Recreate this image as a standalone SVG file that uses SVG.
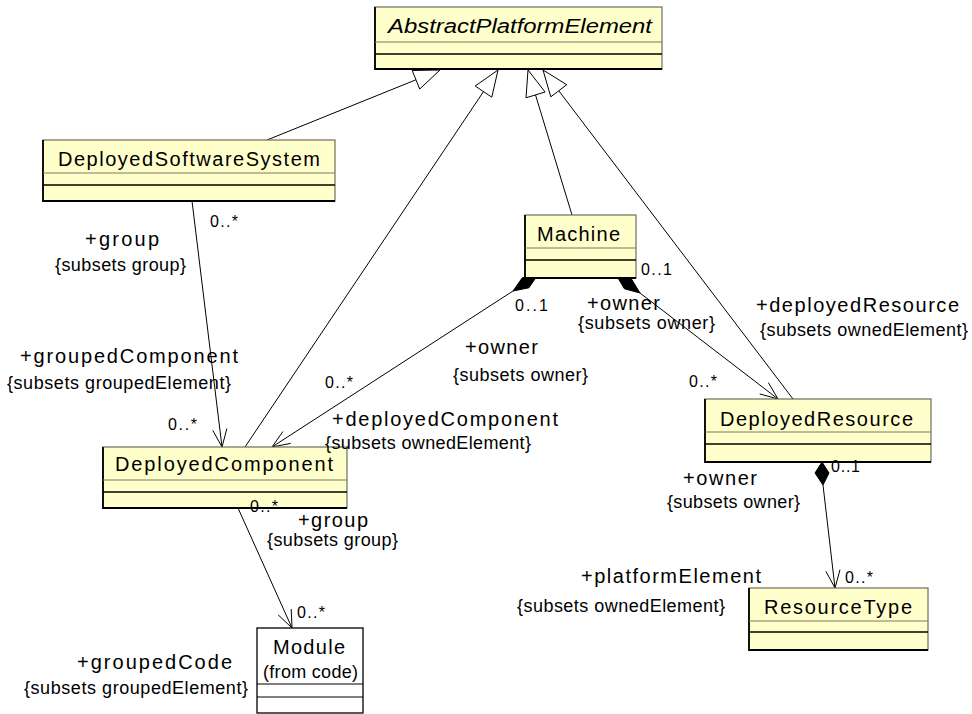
<svg xmlns="http://www.w3.org/2000/svg" width="972" height="714" viewBox="0 0 972 714">
<defs>
<style>
.cls{fill:#FFFFCC;stroke:#6e6e5a;stroke-width:1.2}
.sep1{stroke:#7a7a62;stroke-width:1.2}
.sep2{stroke:#000;stroke-width:1.3}
.edge{stroke:#000;stroke-width:1.8;fill:none}
.ln{stroke:#000;stroke-width:1;fill:none}
.gen{fill:#fff;stroke:#000;stroke-width:1}
.dia{fill:#000;stroke:#000;stroke-width:1}
text{font-family:"Liberation Sans",Arial,sans-serif;fill:#000}
.cn{font-size:20px}
.rn{font-size:20px}
.cs{font-size:18px}
.mu{font-size:16px}
</style>
</defs>
<rect width="972" height="714" fill="#fff"/>
<g id="connectors">
<!-- generalizations -->
<line class="ln" x1="267" y1="140" x2="415.9" y2="79.8"/>
<polygon class="gen" points="440,70 412.2,70.5 419.7,89"/>
<line class="ln" x1="245" y1="447" x2="483.5" y2="91.6"/>
<polygon class="gen" points="498,70 475.2,86 491.8,97.2"/>
<line class="ln" x1="572" y1="215" x2="535.5" y2="94.9"/>
<polygon class="gen" points="528,70 526,97.8 545.1,92"/>
<line class="ln" x1="793" y1="399" x2="558.7" y2="90.7"/>
<polygon class="gen" points="543,70 550.8,96.8 566.7,84.7"/>
<!-- associations -->
<line class="ln" x1="192" y1="201" x2="222" y2="447"/>
<polyline class="ln" points="212.8,430.4 222,447 226.9,428.6"/>
<polygon class="dia" points="538,274.6 528.9,287.8 513,291 522.3,277.8"/>
<line class="ln" x1="513" y1="291" x2="272" y2="447"/>
<polyline class="ln" points="290.7,443.4 272,447 282.9,431.5"/>
<polygon class="dia" points="616.1,274.8 631.6,279.2 640,293 624.4,288.8"/>
<line class="ln" x1="640" y1="293" x2="778" y2="399"/>
<polyline class="ln" points="768.4,382.6 778,399 759.7,393.9"/>
<polygon class="dia" points="822,462 829,473 823,485 815,473"/>
<line class="ln" x1="823" y1="485" x2="835" y2="588"/>
<polyline class="ln" points="825.9,571.3 835,588 840,569.7"/>
<line class="ln" x1="238" y1="508" x2="292" y2="628"/>
<polyline class="ln" points="278.2,614.9 292,628 291.2,609"/>
</g>
<g id="AbstractPlatformElement">
<rect class="cls" x="375" y="7" width="287" height="62"/>
<polyline class="edge" points="375,7 375,69 662,69"/>
<line class="sep1" x1="375" y1="42" x2="662" y2="42"/>
<line class="sep2" x1="375" y1="54" x2="662" y2="54"/>
<text class="cn" x="388" y="33" textLength="264" lengthAdjust="spacingAndGlyphs" font-style="italic">AbstractPlatformElement</text>
</g>
<g id="DeployedSoftwareSystem">
<rect class="cls" x="43" y="140" width="292" height="61"/>
<polyline class="edge" points="43,140 43,201 335,201"/>
<line class="sep1" x1="43" y1="173" x2="335" y2="173"/>
<line class="sep2" x1="43" y1="185" x2="335" y2="185"/>
<text class="cn" x="58" y="166" textLength="262" lengthAdjust="spacing">DeployedSoftwareSystem</text>
</g>
<g id="Machine">
<rect class="cls" x="525" y="215" width="111" height="63"/>
<polyline class="edge" points="525,215 525,278 636,278"/>
<line class="sep1" x1="525" y1="248" x2="636" y2="248"/>
<line class="sep2" x1="525" y1="260" x2="636" y2="260"/>
<text class="cn" x="537" y="241" textLength="83" lengthAdjust="spacing">Machine</text>
</g>
<g id="DeployedResource">
<rect class="cls" x="705" y="399" width="226" height="63"/>
<polyline class="edge" points="705,399 705,462 931,462"/>
<line class="sep1" x1="705" y1="432" x2="931" y2="432"/>
<line class="sep2" x1="705" y1="444" x2="931" y2="444"/>
<text class="cn" x="720" y="426" textLength="193" lengthAdjust="spacing">DeployedResource</text>
</g>
<g id="DeployedComponent">
<rect class="cls" x="103" y="447" width="244" height="61"/>
<polyline class="edge" points="103,447 103,508 347,508"/>
<line class="sep1" x1="103" y1="480" x2="347" y2="480"/>
<line class="sep2" x1="103" y1="492" x2="347" y2="492"/>
<text class="cn" x="115" y="471" textLength="218" lengthAdjust="spacing">DeployedComponent</text>
</g>
<g id="ResourceType">
<rect class="cls" x="749" y="588" width="179" height="62"/>
<polyline class="edge" points="749,588 749,650 928,650"/>
<line class="sep1" x1="749" y1="621" x2="928" y2="621"/>
<line class="sep2" x1="749" y1="632" x2="928" y2="632"/>
<text class="cn" x="764" y="614" textLength="148" lengthAdjust="spacing">ResourceType</text>
</g>
<g id="Module">
<rect x="257" y="628" width="106" height="85" fill="#fff" stroke="#000" stroke-width="1.3"/>
<line x1="257" y1="684" x2="363" y2="684" stroke="#000" stroke-width="1.2"/>
<line x1="257" y1="697" x2="363" y2="697" stroke="#000" stroke-width="1.2"/>
<text class="cn" x="273" y="654" textLength="72" lengthAdjust="spacing">Module</text>
<text class="cs" x="263" y="678" textLength="95" lengthAdjust="spacing">(from code)</text>
</g>
<g id="labels">
<text class="mu" x="210" y="227" textLength="28" lengthAdjust="spacing">0..*</text>
<text class="rn" x="85" y="246" textLength="74" lengthAdjust="spacing">+group</text>
<text class="cs" x="55" y="271" textLength="131" lengthAdjust="spacing">{subsets group}</text>
<text class="rn" x="20" y="363" textLength="218" lengthAdjust="spacing">+groupedComponent</text>
<text class="cs" x="7" y="389" textLength="224" lengthAdjust="spacing">{subsets groupedElement}</text>
<text class="mu" x="168" y="430" textLength="29" lengthAdjust="spacing">0..*</text>
<text class="mu" x="325" y="388" textLength="28" lengthAdjust="spacing">0..*</text>
<text class="rn" x="332" y="426" textLength="226" lengthAdjust="spacing">+deployedComponent</text>
<text class="cs" x="325" y="449" textLength="206" lengthAdjust="spacing">{subsets ownedElement}</text>
<text class="mu" x="515" y="311" textLength="33" lengthAdjust="spacing">0..1</text>
<text class="rn" x="587" y="310" textLength="73" lengthAdjust="spacing">+owner</text>
<text class="cs" x="578" y="329" textLength="137" lengthAdjust="spacing">{subsets owner}</text>
<text class="rn" x="465" y="354" textLength="73" lengthAdjust="spacing">+owner</text>
<text class="cs" x="453" y="381" textLength="135" lengthAdjust="spacing">{subsets owner}</text>
<text class="mu" x="641" y="275" textLength="31" lengthAdjust="spacing">0..1</text>
<text class="rn" x="756" y="312" textLength="203" lengthAdjust="spacing">+deployedResource</text>
<text class="cs" x="760" y="336" textLength="208" lengthAdjust="spacing">{subsets ownedElement}</text>
<text class="mu" x="689" y="387" textLength="28" lengthAdjust="spacing">0..*</text>
<text class="mu" x="831" y="472" textLength="29" lengthAdjust="spacing">0..1</text>
<text class="rn" x="683" y="485" textLength="74" lengthAdjust="spacing">+owner</text>
<text class="cs" x="667" y="508" textLength="133" lengthAdjust="spacing">{subsets owner}</text>
<text class="rn" x="581" y="583" textLength="180" lengthAdjust="spacing">+platformElement</text>
<text class="cs" x="517" y="612" textLength="208" lengthAdjust="spacing">{subsets ownedElement}</text>
<text class="mu" x="845" y="583" textLength="28" lengthAdjust="spacing">0..*</text>
<text class="mu" x="250" y="512" textLength="28" lengthAdjust="spacing">0..*</text>
<text class="rn" x="298" y="527" textLength="70" lengthAdjust="spacing">+group</text>
<text class="cs" x="267" y="546" textLength="131" lengthAdjust="spacing">{subsets group}</text>
<text class="mu" x="297" y="618" textLength="28" lengthAdjust="spacing">0..*</text>
<text class="rn" x="77" y="669" textLength="155" lengthAdjust="spacing">+groupedCode</text>
<text class="cs" x="24" y="694" textLength="224" lengthAdjust="spacing">{subsets groupedElement}</text>
</g>
</svg>
